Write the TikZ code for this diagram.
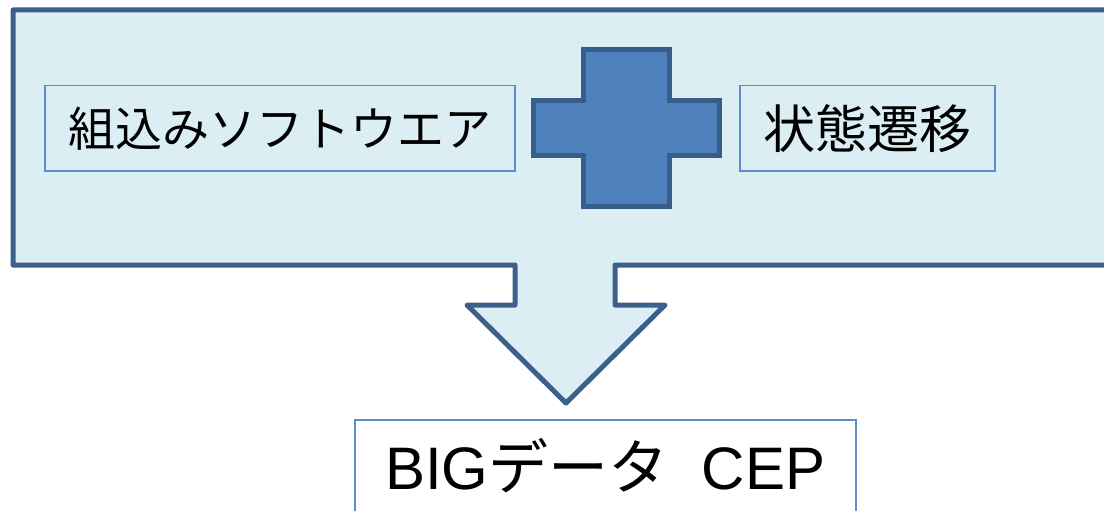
\documentclass[tikz,border=0pt]{standalone}
\usepackage{fontspec}
\setmainfont{Liberation Sans}
\newfontfamily\jpfont{Noto Sans CJK JP}
\definecolor{framecol}{HTML}{3D5F8B}
\definecolor{fillcol}{HTML}{DBEEF4}
\definecolor{boxcol}{HTML}{5B8FCB}
\definecolor{pluscol}{HTML}{4F81BD}
\definecolor{plusline}{HTML}{385D8A}
\begin{document}
\begin{tikzpicture}[x=1pt, y=-1pt,
    lbl/.style={draw=boxcol, line width=1.5pt, inner sep=0pt, anchor=north west,
      font=\jpfont\fontsize{47}{50}\selectfont}
]
\useasboundingbox (0,0) rectangle (1104,511);
\clip (0,0) rectangle (1104,511);
% frame with the down arrow
\draw[framecol, fill=fillcol, line width=5pt, line join=round]
  (13,10) -- (1130,10) -- (1130,265) -- (615,265) -- (615,305) -- (665,305)
  -- (566,403) -- (467,305) -- (515,305) -- (515,265) -- (13,265) -- cycle;
% plus sign
\draw[plusline, fill=pluscol, line width=5pt]
  (583,50) -- (669,50) -- (669,101) -- (719,101) -- (719,155) -- (669,155)
  -- (669,206) -- (583,206) -- (583,155) -- (533,155) -- (533,101) -- (583,101) -- cycle;
\node[lbl, minimum width=470, minimum height=85] (embedded) at (44,85) {組込みソフトウエア};
\node[lbl, minimum width=255, minimum height=85, font=\jpfont\fontsize{52}{55}\selectfont]
  (state) at (739,85) {状態遷移};
\node[lbl, fill=white, minimum width=501, minimum height=92, font=\fontsize{60}{64}\selectfont]
  (bigdata) at (354,419) {BIG{\jpfont データ}\ \ CEP};
\end{tikzpicture}
\end{document}
